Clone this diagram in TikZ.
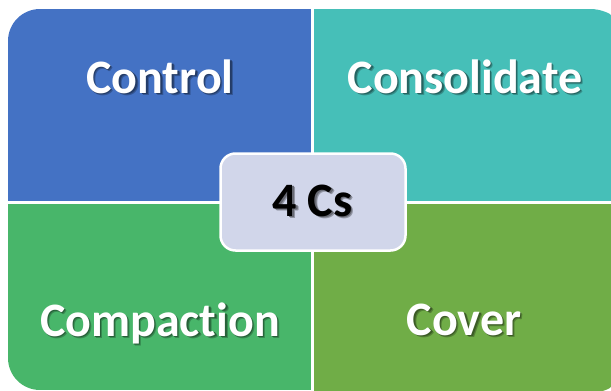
\documentclass[tikz,border=0pt]{standalone}
\usepackage{fontspec}
\setmainfont[RawFeature=-liga]{Carlito}
\usetikzlibrary{calc}
\definecolor{cblue}{RGB}{68,114,196}
\definecolor{cteal}{RGB}{70,191,184}
\definecolor{cgreenA}{RGB}{72,182,106}
\definecolor{cgreenB}{RGB}{112,173,71}
\definecolor{clav}{RGB}{209,214,234}
\tikzset{
  lbl/.style={font=\fontsize{48}{52}\selectfont\bfseries, anchor=base, inner sep=0pt},
}
% text with a soft drop shadow drawn in the same node
\newcommand{\shtext}[3]{% text, shadow colour, text colour
  \rlap{\hspace{2.5pt}\raisebox{-2.5pt}{\color{#2}#1}}%
  \rlap{\hspace{1.5pt}\raisebox{-1.5pt}{\color{#2!70!black}#1}}%
  {\color{#3}#1}}
\begin{document}
\begin{tikzpicture}[x=1pt,y=-1pt]
\useasboundingbox (0,0) rectangle (611,391);
\fill[white] (0,0) rectangle (611,391);
% quadrants
\begin{scope}
  \clip[rounded corners=32pt] (8,9) rectangle (420,320);
  \fill[cblue] (8,9) rectangle (311,201);
\end{scope}
\begin{scope}
  \clip[rounded corners=42pt] (200,9) rectangle (632,320);
  \fill[cteal] (314,9) rectangle (632,201);
\end{scope}
\begin{scope}
  \clip[rounded corners=32pt] (8,100) rectangle (420,390);
  \fill[cgreenA] (8,204) rectangle (311,390);
\end{scope}
\begin{scope}
  \clip[rounded corners=42pt] (200,100) rectangle (632,393);
  \fill[cgreenB] (314,204) rectangle (632,393);
\end{scope}
% center box
\node[draw=white, line width=2.5pt, fill=clav, rounded corners=15pt,
      minimum width=185pt, minimum height=97pt, inner sep=0pt] (center) at (313,202) {};
% labels
\node[lbl] (control) at (160,93) {\shtext{Control}{cblue!75!black}{white}};
\node[lbl] (consolidate) at (465,93) {\shtext{Consolidate}{cteal!75!black}{white}};
\node[lbl] (compaction) at (160,336) {\shtext{Compaction}{cgreenA!75!black}{white}};
\node[lbl] (cover) at (464,335) {\shtext{Cover}{cgreenB!75!black}{white}};
\node[lbl] (fourcs) at (312.5,216) {\shtext{4 Cs}{clav!70!black}{black}};
\end{tikzpicture}
\end{document}
